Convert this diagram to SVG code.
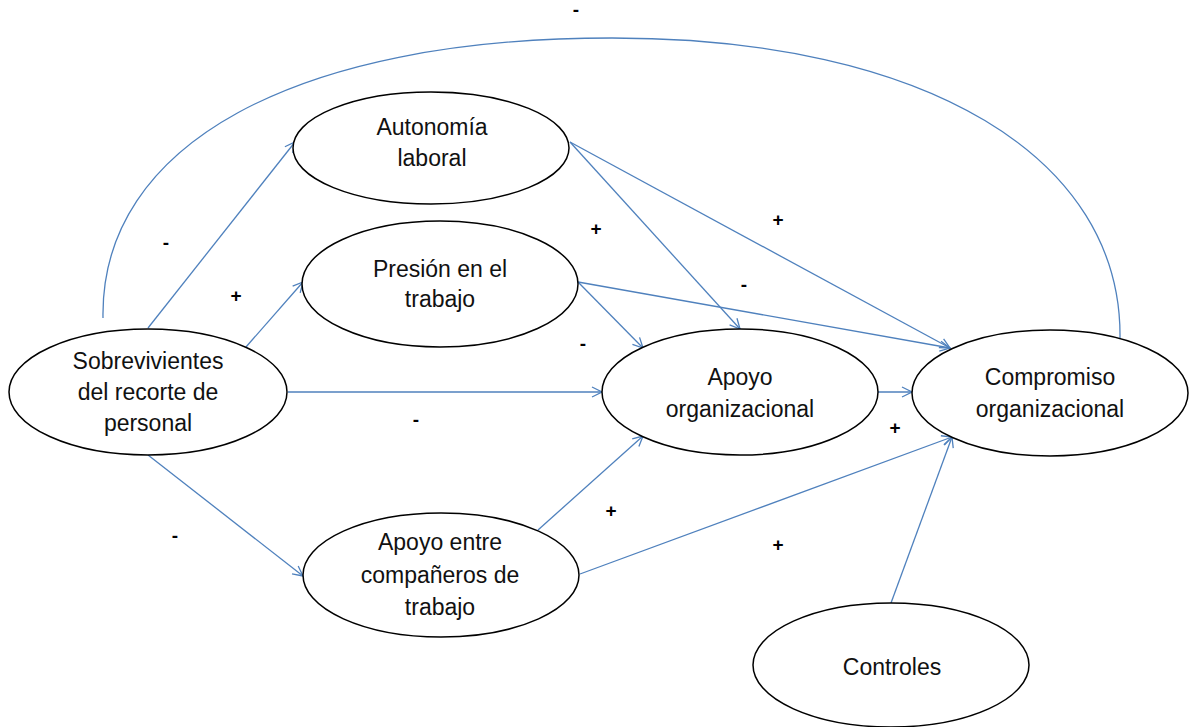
<svg xmlns="http://www.w3.org/2000/svg" width="1191" height="727" viewBox="0 0 1191 727">
<style>
.node ellipse{fill:#fff;stroke:#000;stroke-width:1.5}
.node text{font-family:"Liberation Sans",Arial,sans-serif;font-size:23px;fill:#111;text-anchor:middle}
.conn line,.conn path{stroke:#4f81bd;stroke-width:1.3;fill:none}
.sign{font-family:"Liberation Sans",Arial,sans-serif;font-size:19px;font-weight:bold;fill:#000;text-anchor:middle}
</style>
<defs>
<marker id="arr" viewBox="0 0 12 12" refX="11" refY="6" markerWidth="12" markerHeight="12" markerUnits="userSpaceOnUse" orient="auto">
<path d="M1,1 L11,6 L1,11" fill="none" stroke="#4f81bd" stroke-width="1.3"/>
</marker>
</defs>
<rect width="1191" height="727" fill="#fff"/>
<g id="connectors" class="conn">
<path d="M103,318 C100,144 296,38 612,38 C927,38 1122,158 1120,338"/>
<line x1="148" y1="328" x2="295" y2="142" marker-end="url(#arr)"/>
<line x1="246" y1="347" x2="303" y2="282" marker-end="url(#arr)"/>
<line x1="288" y1="392" x2="602" y2="392" marker-end="url(#arr)"/>
<line x1="148" y1="455" x2="303" y2="576" marker-end="url(#arr)"/>
<line x1="570" y1="142" x2="740" y2="329" marker-end="url(#arr)"/>
<line x1="570" y1="142" x2="950" y2="348" marker-end="url(#arr)"/>
<line x1="578" y1="282" x2="643" y2="348" marker-end="url(#arr)"/>
<line x1="578" y1="282" x2="950" y2="348" marker-end="url(#arr)"/>
<line x1="878" y1="392" x2="912" y2="392" marker-end="url(#arr)"/>
<line x1="538" y1="530" x2="643" y2="436" marker-end="url(#arr)"/>
<line x1="580" y1="574" x2="952" y2="437" marker-end="url(#arr)"/>
<line x1="891" y1="603" x2="952" y2="437" marker-end="url(#arr)"/>
</g>
<g id="n-sobrevivientes" class="node">
<ellipse cx="148" cy="392" rx="139" ry="63"/>
<text x="148" y="369">Sobrevivientes</text>
<text x="148" y="400">del recorte de</text>
<text x="148" y="431">personal</text>
</g>
<g id="n-autonomia" class="node">
<ellipse cx="431" cy="148" rx="138" ry="56"/>
<text x="432" y="135">Autonomía</text>
<text x="432" y="166">laboral</text>
</g>
<g id="n-presion" class="node">
<ellipse cx="440" cy="284" rx="138" ry="63"/>
<text x="440" y="277">Presión en el</text>
<text x="440" y="307">trabajo</text>
</g>
<g id="n-apoyo-org" class="node">
<ellipse cx="740" cy="392" rx="138" ry="63"/>
<text x="740" y="385">Apoyo</text>
<text x="740" y="417">organizacional</text>
</g>
<g id="n-compromiso" class="node">
<ellipse cx="1050" cy="393" rx="138" ry="63"/>
<text x="1050" y="385">Compromiso</text>
<text x="1050" y="417">organizacional</text>
</g>
<g id="n-apoyo-entre" class="node">
<ellipse cx="441" cy="575" rx="138" ry="62"/>
<text x="440" y="550">Apoyo entre</text>
<text x="440" y="583">compañeros de</text>
<text x="440" y="615">trabajo</text>
</g>
<g id="n-controles" class="node">
<ellipse cx="891" cy="665" rx="138" ry="62"/>
<text x="892" y="675">Controles</text>
</g>
<g id="labels">
<text class="sign" x="576" y="16">-</text>
<text class="sign" x="166" y="249">-</text>
<text class="sign" x="236" y="302">+</text>
<text class="sign" x="596" y="235">+</text>
<text class="sign" x="778" y="226">+</text>
<text class="sign" x="744" y="291">-</text>
<text class="sign" x="583" y="350">-</text>
<text class="sign" x="416" y="426">-</text>
<text class="sign" x="895" y="434">+</text>
<text class="sign" x="611" y="517">+</text>
<text class="sign" x="175" y="542">-</text>
<text class="sign" x="778" y="551">+</text>
</g>
</svg>
